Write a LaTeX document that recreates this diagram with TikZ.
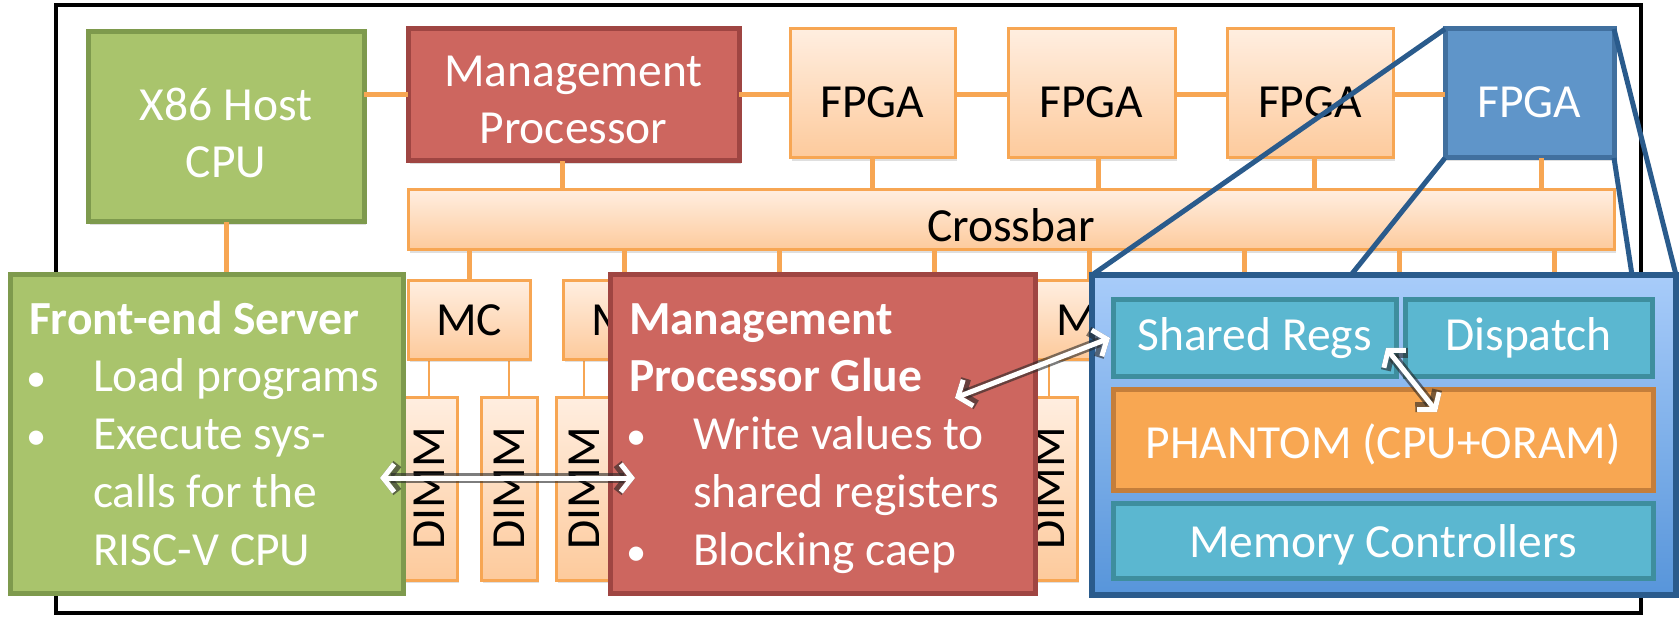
\documentclass[tikz,border=0pt]{standalone}
\usepackage{fontspec}
\setmainfont{Carlito}
\usetikzlibrary{arrows.meta,shadows}

\definecolor{grnfill}{HTML}{A9C46C}
\definecolor{grnline}{HTML}{7E9A4D}
\definecolor{redfill}{HTML}{CD665F}
\definecolor{redline}{HTML}{9F4542}
\definecolor{orgline}{HTML}{F7A653}
\definecolor{orgtop}{HTML}{FFEEE0}
\definecolor{orgbot}{HTML}{FDCA9C}
\definecolor{bluefill}{HTML}{5F95C9}
\definecolor{blueline}{HTML}{41709F}
\definecolor{navy}{HTML}{2A5B8C}
\definecolor{skytop}{HTML}{A8CCFA}
\definecolor{skybot}{HTML}{5795DA}
\definecolor{tealfill}{HTML}{5BB7D0}
\definecolor{tealline}{HTML}{3E8E9E}
\definecolor{phfill}{HTML}{F8A752}
\definecolor{phline}{HTML}{C47E3B}

% bullet item and continuation line inside the text blocks
\newcommand{\bitem}{\hspace*{-3pt}\makebox[67pt][l]{\scalebox{0.85}{\textbullet}}}
\newcommand{\bcont}{\hspace*{64pt}}

\begin{document}
\begin{tikzpicture}[x=1pt,y=-1pt,
  every node/.style={inner sep=0pt,outer sep=0pt,font=\fontsize{47.5}{57.7}\selectfont},
  rect/.style 2 args={minimum width=#1pt,minimum height=#2pt},
  sh/.style={drop shadow={opacity=0.25,shadow xshift=2pt,shadow yshift=-3pt}},
  green/.style={draw=grnline,fill=grnfill,line width=5pt,text=white,sh},
  red/.style={draw=redline,fill=redfill,line width=5pt,text=white,sh},
  pale/.style={draw=orgline,top color=orgtop,bottom color=orgbot,line width=3pt,sh},
  fpgablue/.style={draw=blueline,fill=bluefill,line width=5pt,text=white,sh},
  zoomed/.style={draw=navy,top color=skytop,bottom color=skybot,line width=6pt,sh},
  teal/.style={draw=tealline,fill=tealfill,line width=5pt,text=white},
  core/.style={draw=phline,fill=phfill,line width=5pt,text=white},
  link/.style={draw=orgline,line width=5pt},
  dlink/.style={draw=orgline,line width=2.5pt},
  zoomline/.style={draw=navy,line width=5pt},
  tips/.style={{Straight Barb[length=11pt,width=28pt]}-{Straight Barb[length=11pt,width=28pt]}},
  arrsh/.style={tips,draw=black!85,line width=10pt,opacity=0.6},
  arr/.style={tips,draw=white,line width=5pt},
  wlbl/.style={text=white},
]
\useasboundingbox (0,0) rectangle (1680,617);

% enclosing board
\draw[line width=4pt] (56,5) rectangle (1641,613);

% top row
\node[green,rect={276}{190}] (x86) at (226,127) {};
\node[red,rect={331}{132}] (mp) at (573.5,95) {};
\node[pale,rect={165}{129}] (f1) at (872.5,93.5) {};
\node[pale,rect={167}{129}] (f2) at (1091.5,93.5) {};
\node[pale,rect={166}{129}] (f3) at (1310,93.5) {};
\node[fpgablue,rect={169}{129}] (fb) at (1529.5,93.5) {};

% crossbar
\node[pale,rect={1206}{60}] (xbar) at (1011,220) {};

% links of the top row
\draw[link] (x86.east |- mp.center) -- (mp.west);
\draw[link] (mp.east) -- (f1.west |- mp.center);
\draw[link] (f1.east |- mp.center) -- (f2.west |- mp.center);
\draw[link] (f2.east |- mp.center) -- (f3.west |- mp.center);
\draw[link] (f3.east |- mp.center) -- (fb.west |- mp.center);
\draw[link] ([xshift=-11pt]mp.south) -- ([xshift=-11pt]mp.south |- xbar.north);
\draw[link] (f1.south) -- (f1.south |- xbar.north);
\draw[link] ([xshift=7pt]f2.south) -- ([xshift=7pt]f2.south |- xbar.north);
\draw[link] ([xshift=4pt]f3.south) -- ([xshift=4pt]f3.south |- xbar.north);
\draw[link] ([xshift=12pt]fb.south) -- ([xshift=12pt]fb.south |- xbar.north);

% memory controllers and their DIMMs
\foreach \i in {0,...,7}{
  \pgfmathsetmacro{\cx}{469+155*\i}
  \draw[link] (\cx,250) -- (\cx,281);
  \draw[dlink] (\cx-40,359) -- (\cx-40,397);
  \draw[dlink] (\cx+40,359) -- (\cx+40,397);
  \node[pale,rect={122}{78}] (mc\i) at (\cx,320) {MC};
  \node[pale,rect={56}{183}] (dl\i) at (\cx-40,488.5) {};
  \node[rotate=90] (dlt\i) at (\cx-40,488.5) {DIMM};
  \node[pale,rect={56}{183}] (dr\i) at (\cx+40,488.5) {};
  \node[rotate=90] (drt\i) at (\cx+40,488.5) {DIMM};
}

% labels of the top row
\node[wlbl,align=center] (x86t) at (226,133) {X86 Host\\CPU};
\node[wlbl,align=center] (mpt) at (573.5,100) {Management\\Processor};
\node (f1t) at (872.5,102) {FPGA};
\node (f2t) at (1091.5,102) {FPGA};
\node (f3t) at (1310,102) {FPGA};
\node[wlbl] (fbt) at (1529.5,102) {FPGA};
\node (xbart) at (1011,225) {Crossbar};

\draw[link] (x86.south) -- (226,275);

% front-end server and glue (base anchor = baseline of the last line)
\node[green,rect={393}{318}] (fe) at (206.5,434) {};
\node[wlbl,align=left,anchor=base west] (fet) at (29,565)
  {\textbf{Front-end Server}\\
   \bitem Load programs\\
   \bitem Execute sys-\\
   \bcont calls for the\\
   \bcont RISC-V CPU};
\node[red,rect={425}{318}] (mpg) at (822.5,434) {};
\node[wlbl,align=left,anchor=base west] (mpgt) at (629,565)
  {\textbf{Management}\\
   \textbf{Processor Glue}\\
   \bitem Write values to\\
   \bcont shared registers\\
   \bitem Blocking caep};

% zoomed view of the last FPGA
\node[zoomed,rect={584}{320}] (big) at (1384,435) {};
\node[teal,rect={283}{76}] (sr) at (1254.5,338) {Shared Regs};
\node[teal,rect={247}{76}] (dp) at (1528.5,338) {Dispatch};
\node[core,rect={540}{101}] (ph) at (1383,439.5) {};
\node[wlbl] (pht) at (1383,444) {PHANTOM (CPU+ORAM)};
\node[teal,rect={540}{75}] (mcs) at (1383,540.5) {};
\node[wlbl] (mcst) at (1383,545) {Memory Controllers};

\coordinate (zl) at ([xshift=259pt]big.north west);
\coordinate (zr) at ([xshift=-44pt]big.north east);
\draw[zoomline] (fb.north west) -- (big.north west);
\draw[zoomline] (fb.south west) -- (zl);
\draw[zoomline] (fb.north east) -- (big.north east);
\draw[zoomline] (fb.south east) -- (zr);

% data paths
\coordinate (a1) at (380,478);
\coordinate (a2) at (635,478);
\coordinate (b1) at (955,398);
\coordinate (b2) at (1110,338);
\coordinate (c1) at (1386,348);
\coordinate (c2) at (1437,412);
\foreach \p/\q in {a1/a2,b1/b2,c1/c2}{
  \draw[arrsh] (\p) -- (\q);
  \draw[arr] (\p) -- (\q);
}
\end{tikzpicture}
\end{document}
